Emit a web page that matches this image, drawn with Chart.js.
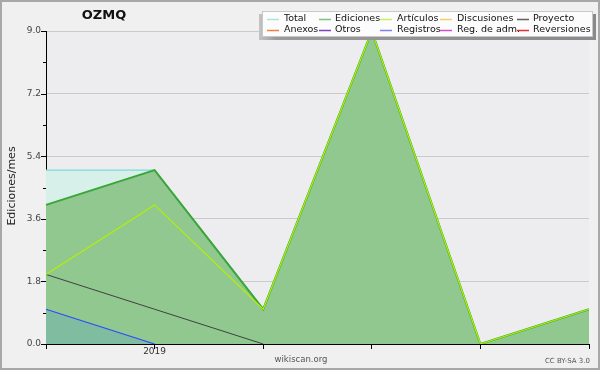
<!DOCTYPE html>
<html>
<head>
<meta charset="utf-8">
<script src="https://cdn.jsdelivr.net/npm/chart.js@4"></script>
<style>
  html, body { margin: 0; padding: 0; background: #f0f0f0; }
  #wrap { width: 600px; height: 370px; }
</style>
</head>
<body>
<div id="wrap"><canvas id="chart" width="600" height="370"></canvas></div>
<script>
// months shown on the x axis
const months = ['2018-12', '2019-01', '2019-02', '2019-03', '2019-04', '2019-05'];

// edits per month
const total      = [5, 5, 1, 9, 0, 1];
const ediciones  = [4, 5, 1, 9, 0, 1];
const articulos  = [2, 4, 1, 9, 0, 1];
const proyecto   = [2, 1, 0, null, null, null];
const registros  = [1, 0, null, null, null, null];

// legend entries (two rows of five)
const legendNames  = ['Total', 'Ediciones', 'Artículos', 'Discusiones', 'Proyecto',
                      'Anexos', 'Otros', 'Registros', 'Reg. de adm.', 'Reversiones'];
const legendColors = ['#a8e4e0', '#80c080', '#c8f060', '#f0d070', '#606060',
                      '#f08040', '#8040c0', '#8080f0', '#d050d0', '#e03030'];

const yTicksMax = 9;
const yStep = 0.9;

const FONT = '"DejaVu Sans", sans-serif';

const decor = {
    id: 'decor',
    beforeDraw(chart) {
        const c = chart.ctx, a = chart.chartArea;
        c.save();
        c.fillStyle = '#f0f0f0';
        c.fillRect(0, 0, chart.width, chart.height);
        c.fillStyle = '#ededf0';
        c.fillRect(a.left, a.top, a.right - a.left, a.bottom - a.top);
        c.restore();
    },
    afterDraw(chart) {
        const c = chart.ctx, a = chart.chartArea;
        const y = chart.scales.y;
        c.save();
        // y axis tick marks, long on labelled ones
        c.strokeStyle = '#000';
        c.lineWidth = 1;
        y.ticks.forEach((t, i) => {
            const py = Math.round(y.getPixelForValue(t.value)) + 0.5;
            const len = i % 2 === 0 ? 5 : 3;
            c.beginPath();
            c.moveTo(a.left - len, py);
            c.lineTo(a.left, py);
            c.stroke();
        });

        // title
        c.fillStyle = '#111';
        c.font = 'bold 13px ' + FONT;
        c.textAlign = 'center';
        c.textBaseline = 'middle';
        c.fillText('OZMQ', 104, 16);

        // y axis title
        c.save();
        c.translate(12, 186);
        c.rotate(-Math.PI / 2);
        c.font = '11px ' + FONT;
        c.fillStyle = '#222';
        c.fillText('Ediciones/mes', 0, 0);
        c.restore();

        // footer texts
        c.font = '8.5px ' + FONT;
        c.fillStyle = '#555';
        c.fillText('wikiscan.org', 301, 360);
        c.font = '7px ' + FONT;
        c.textAlign = 'right';
        c.fillText('CC BY-SA 3.0', 590, 361);

        // legend box with shadow
        const bx = 262, by = 11, bw = 331, bh = 26;
        const sh = c.createLinearGradient(bx - 3, 0, bx + bw + 3, 0);
        sh.addColorStop(0, '#c4c4c4');
        sh.addColorStop(0.05, '#9a9a9a');
        sh.addColorStop(1, '#8a8a8a');
        c.fillStyle = sh;
        c.fillRect(bx - 3, by + 3, bw + 6, bh);
        c.fillStyle = '#fcfcfc';
        c.fillRect(bx, by, bw, bh);
        c.strokeStyle = '#c8c8c8';
        c.lineWidth = 1;
        c.strokeRect(bx + 0.5, by + 0.5, bw - 1, bh - 1);

        const colX = [267, 319, 380, 440, 517];
        const textX = [284, 335, 397, 457, 533];
        c.font = '9.5px ' + FONT;
        c.textAlign = 'left';
        legendNames.forEach((name, i) => {
            const col = i % 5, row = Math.floor(i / 5);
            const ly = 18.5 + row * 11;
            c.strokeStyle = legendColors[i];
            c.lineWidth = 1.5;
            c.beginPath();
            c.moveTo(colX[col], Math.round(ly) + 0.5);
            c.lineTo(colX[col] + 12, Math.round(ly) + 0.5);
            c.stroke();
            c.fillStyle = '#111';
            c.fillText(name, textX[col], ly);
        });

        // outer frame
        c.strokeStyle = '#a8a8a8';
        c.lineWidth = 2;
        c.strokeRect(1, 1, chart.width - 2, chart.height - 2);
        c.restore();
    }
};

const chart = new Chart(document.getElementById('chart'), {
    type: 'line',
    data: {
        labels: months,
        datasets: [
            {
                label: 'Total',
                data: total,
                borderColor: '#78dcd4',
                backgroundColor: '#d8f0ea',
                borderWidth: 1.2,
                fill: 'origin',
                order: 5
            },
            {
                label: 'Ediciones',
                data: ediciones,
                borderColor: '#3aa63a',
                backgroundColor: '#90c890',
                borderWidth: 2,
                fill: 'origin',
                order: 4
            },
            {
                label: 'Registros',
                data: registros,
                borderColor: '#2a4cff',
                backgroundColor: 'rgba(64,140,224,0.2)',
                borderWidth: 1.2,
                fill: 'origin',
                order: 3
            },
            {
                label: 'Proyecto',
                data: proyecto,
                borderColor: '#404040',
                borderWidth: 1,
                fill: false,
                order: 2
            },
            {
                label: 'Artículos',
                data: articulos,
                borderColor: '#b4f000',
                borderWidth: 1.2,
                fill: false,
                order: 1
            }
        ]
    },
    options: {
        responsive: false,
        animation: false,
        layout: { padding: { top: 31, right: 11, left: 0, bottom: 0 } },
        elements: {
            point: { radius: 0 },
            line: { tension: 0 }
        },
        scales: {
            x: {
                offset: false,
                afterFit(scale) { scale.height = 26; },
                border: { color: '#000', width: 1 },
                grid: {
                    drawOnChartArea: false,
                    drawTicks: true,
                    tickLength: 5,
                    tickColor: '#000'
                },
                ticks: {
                    autoSkip: false,
                    maxRotation: 0,
                    padding: -3,
                    color: '#333',
                    font: { family: FONT, size: 9 },
                    callback(v, i) {
                        const m = months[i];
                        return m.endsWith('-01') ? m.slice(0, 4) : '';
                    }
                }
            },
            y: {
                min: 0,
                max: yTicksMax,
                afterFit(scale) { scale.width = 46; },
                border: { color: '#000', width: 1 },
                grid: {
                    drawTicks: false,
                    color(ctx) {
                        return (ctx.index % 2 === 0 && ctx.index > 0) ? '#cacaca' : 'rgba(0,0,0,0)';
                    }
                },
                ticks: {
                    stepSize: yStep,
                    padding: 5,
                    color: '#444',
                    font: { family: FONT, size: 9 },
                    callback(v, i) {
                        return i % 2 === 0 ? v.toFixed(1) : '';
                    }
                }
            }
        },
        plugins: {
            legend: { display: false },
            tooltip: { enabled: false }
        }
    },
    plugins: [decor]
});
</script>
</body>
</html>
